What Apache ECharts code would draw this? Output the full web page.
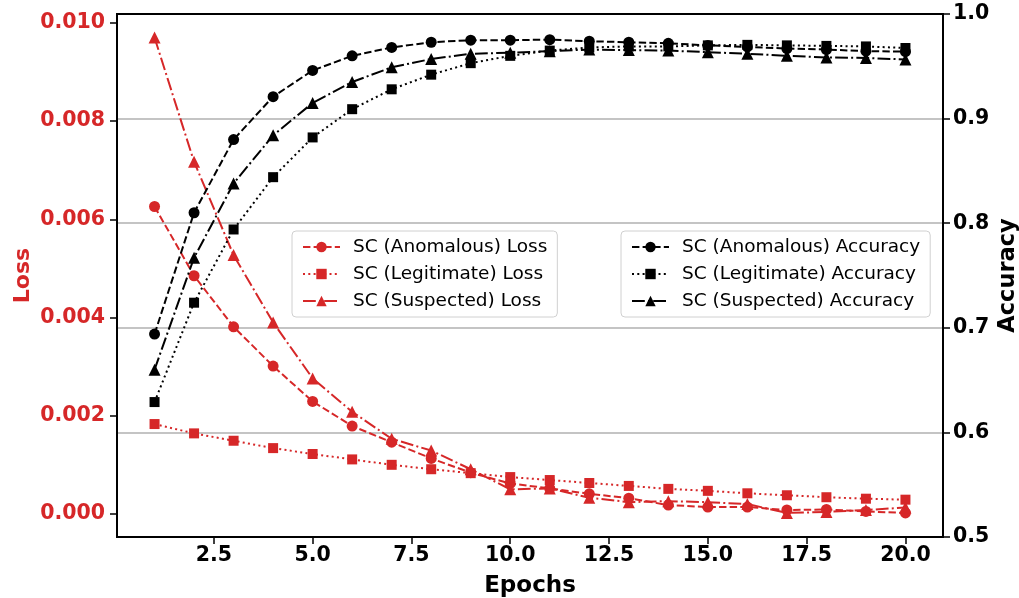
<!DOCTYPE html>
<html lang="en">
<head>
    <meta charset="UTF-8">
    <title>Loss and Accuracy</title>
    <script src="https://cdn.jsdelivr.net/npm/echarts@6/dist/echarts.min.js"></script>
</head>
<body style="margin: 0">
<div id="chart" style="width: 1019px;height: 598px"></div>
</body>

<script>
    // data
    let epochs = [1, 2, 3, 4, 5, 6, 7, 8, 9, 10, 11, 12, 13, 14, 15, 16, 17, 18, 19, 20]

    let anomLoss = [0.00626, 0.00485, 0.00381, 0.00301, 0.00229, 0.00179, 0.00146, 0.00113, 0.00084, 0.00062,
        0.00052, 0.00041, 0.00032, 0.00018, 0.00014, 0.00014, 0.00008, 0.00009, 0.00005, 0.00002]
    let legitLoss = [0.00183, 0.00164, 0.00149, 0.00134, 0.00122, 0.00111, 0.00100, 0.00091, 0.00083, 0.00075,
        0.00069, 0.00063, 0.00057, 0.00051, 0.00047, 0.00042, 0.00038, 0.00034, 0.00031, 0.00029]
    let suspLoss = [0.00970, 0.00717, 0.00527, 0.00390, 0.00276, 0.00208, 0.00153, 0.00129, 0.00091, 0.00050,
        0.00052, 0.00033, 0.00024, 0.00026, 0.00024, 0.00020, 0.00002, 0.00004, 0.00008, 0.00013]

    let anomAcc = [0.694, 0.810, 0.880, 0.921, 0.946, 0.960, 0.968, 0.973, 0.975, 0.975,
        0.9755, 0.974, 0.973, 0.972, 0.970, 0.9685, 0.967, 0.966, 0.9645, 0.964]
    let legitAcc = [0.629, 0.724, 0.794, 0.844, 0.882, 0.909, 0.928, 0.942, 0.953, 0.960,
        0.965, 0.968, 0.969, 0.969, 0.970, 0.9705, 0.970, 0.9695, 0.969, 0.9675]
    let suspAcc = [0.660, 0.767, 0.838, 0.884, 0.915, 0.935, 0.949, 0.957, 0.962, 0.963,
        0.9645, 0.966, 0.9655, 0.965, 0.9635, 0.962, 0.960, 0.9585, 0.958, 0.9565]

    let xTicks = [2.5, 5.0, 7.5, 10.0, 12.5, 15.0, 17.5, 20.0]
    let lossTicks = [0.000, 0.002, 0.004, 0.006, 0.008, 0.010]

    const RED = '#d62728'
    const FONT = 'DejaVu Sans'
    const DASHED = [7.4, 3.2]
    const DOTTED = [2, 3.3]
    const DASHDOT = [12.8, 3.2, 2, 3.2]

    function pairs(ys) {
        return epochs.map((e, i) => [e, ys[i]])
    }

    function makeSeries(name, ys, axis, color, symbol, dash, size) {
        return {
            name: name,
            type: 'line',
            yAxisIndex: axis,
            data: pairs(ys),
            symbol: symbol,
            symbolSize: size,
            color: color,
            itemStyle: {color: color},
            lineStyle: {color: color, width: 2, type: dash},
            z: axis === 1 ? 3 : 2,
            animation: false
        }
    }

    let legendBase = {
        orient: 'vertical',
        top: 231,
        itemWidth: 37,
        itemHeight: 13,
        itemGap: 7,
        padding: [6, 10, 6, 10],
        borderColor: '#d0d0d0',
        borderWidth: 1,
        borderRadius: 4,
        backgroundColor: 'rgba(255,255,255,0.8)',
        textStyle: {fontFamily: FONT, fontSize: 18.5, color: '#000', lineHeight: 20, padding: [0, 0, 0, 8]}
    }

    let chart = echarts.init(document.getElementById('chart'));

    let option = {
        animation: false,
        grid: {
            left: 117, right: 76, top: 14, bottom: 61,
            containLabel: false,
            outerBoundsMode: 'none',
            show: true, borderColor: '#000', borderWidth: 2, backgroundColor: 'transparent'
        },
        legend: [
            Object.assign({}, legendBase, {
                left: 292,
                data: ['SC (Anomalous) Loss', 'SC (Legitimate) Loss', 'SC (Suspected) Loss']
            }),
            Object.assign({}, legendBase, {
                left: 621,
                data: ['SC (Anomalous) Accuracy', 'SC (Legitimate) Accuracy', 'SC (Suspected) Accuracy']
            })
        ],
        xAxis: {
            type: 'value',
            min: 0.05,
            max: 20.95,
            name: 'Epochs',
            nameLocation: 'middle',
            nameGap: 38,
            nameMoveOverlap: false,
            nameTextStyle: {fontFamily: FONT, fontSize: 23, fontWeight: 'bold', color: '#000'},
            axisLine: {show: true, onZero: false, lineStyle: {color: '#000', width: 2}},
            axisTick: {show: true, length: 7, lineStyle: {color: '#000', width: 1.5}, customValues: xTicks},
            axisLabel: {
                fontFamily: FONT, fontSize: 20.5, fontWeight: 'bold', color: '#000', margin: 8,
                customValues: xTicks,
                formatter: v => v.toFixed(1)
            },
            splitLine: {show: false}
        },
        yAxis: [
            {
                type: 'value',
                min: -0.00047,
                max: 0.01018,
                position: 'left',
                name: 'Loss',
                nameLocation: 'middle',
                nameGap: 83,
                nameMoveOverlap: false,
                nameTextStyle: {fontFamily: FONT, fontSize: 22, fontWeight: 'bold', color: RED},
                axisLine: {show: true, onZero: false, lineStyle: {color: '#000', width: 2}},
                axisTick: {show: true, length: 7, lineStyle: {color: '#000', width: 1.5}, customValues: lossTicks},
                axisLabel: {
                    fontFamily: FONT, fontSize: 20.5, fontWeight: 'bold', color: RED, margin: 12,
                    customValues: lossTicks,
                    formatter: v => v.toFixed(3)
                },
                splitLine: {show: false}
            },
            {
                type: 'value',
                min: 0.5,
                max: 1.0,
                interval: 0.1,
                position: 'right',
                name: 'Accuracy',
                nameLocation: 'middle',
                nameGap: 54,
                nameMoveOverlap: false,
                nameTextStyle: {fontFamily: FONT, fontSize: 22.5, fontWeight: 'bold', color: '#000'},
                axisLine: {show: true, onZero: false, lineStyle: {color: '#000', width: 2}},
                axisTick: {show: true, length: 7, lineStyle: {color: '#000', width: 1.5}},
                axisLabel: {
                    fontFamily: FONT, fontSize: 20.5, fontWeight: 'bold', color: '#000', margin: 10,
                    formatter: v => v.toFixed(1)
                },
                splitLine: {
                    show: true, showMinLine: false, showMaxLine: false,
                    lineStyle: {color: '#b0b0b0', width: 1.5}
                }
            }
        ],
        series: [
            makeSeries('SC (Anomalous) Loss', anomLoss, 0, RED, 'circle', DASHED, 11),
            makeSeries('SC (Legitimate) Loss', legitLoss, 0, RED, 'rect', DOTTED, 10),
            makeSeries('SC (Suspected) Loss', suspLoss, 0, RED, 'triangle', DASHDOT, 12),
            makeSeries('SC (Anomalous) Accuracy', anomAcc, 1, '#000', 'circle', DASHED, 11),
            makeSeries('SC (Legitimate) Accuracy', legitAcc, 1, '#000', 'rect', DOTTED, 10),
            makeSeries('SC (Suspected) Accuracy', suspAcc, 1, '#000', 'triangle', DASHDOT, 12)
        ]
    };
    chart.setOption(option);
</script>

</html>
